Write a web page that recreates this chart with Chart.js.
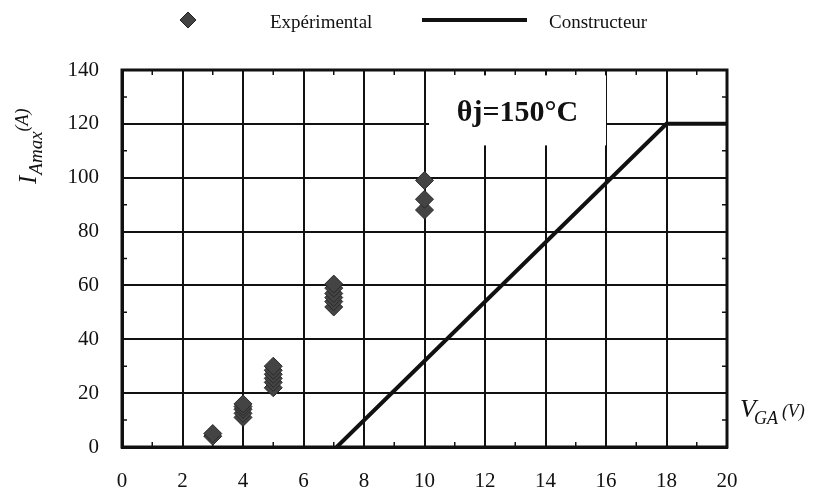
<!DOCTYPE html>
<html>
<head>
<meta charset="utf-8">
<script src="https://cdn.jsdelivr.net/npm/chart.js@4/dist/chart.umd.min.js"></script>
<style>
  html, body { margin: 0; padding: 0; background: #ffffff; }
  #wrap { width: 825px; height: 493px; position: relative; }
</style>
</head>
<body>
<div id="wrap"><canvas id="c" width="825" height="493"></canvas></div>
<script>
// ---- data ----
const expVoltage = [3, 3, 4, 4, 4, 4, 4, 5, 5, 5, 5, 5, 5, 7, 7, 7, 7, 7, 7, 10, 10, 10];
const expCurrent = [4, 5, 11, 12.5, 14, 15, 16, 22, 24, 25.5, 27, 28.5, 30, 52, 54, 55.5, 57, 59, 60.5, 88, 92, 99];
const conVoltage = [7.1, 18, 20];
const conCurrent = [0, 120, 120];
const xTickValues = [0, 2, 4, 6, 8, 10, 12, 14, 16, 18, 20];
const yTickValues = [0, 20, 40, 60, 80, 100, 120, 140];
const legendLabels = ['Expérimental', 'Constructeur'];
const annotationText = 'θj=150°C';
const annotationBox = { x0: 10.15, x1: 16.0, y0: 112, y1: 138 };

const SERIF = '"Liberation Serif", "Times New Roman", serif';
const INK = '#111111';
const DIAMOND = '#444444';

const expPoints = expVoltage.map((v, i) => ({ x: v, y: expCurrent[i] }));
const conPoints = conVoltage.map((v, i) => ({ x: v, y: conCurrent[i] }));

const decorPlugin = {
  id: 'decor',
  beforeDatasetsDraw(chart) {
    const { ctx, scales: { x, y }, chartArea: ca } = chart;
    ctx.save();
    // white annotation box covering the grid
    const bx0 = x.getPixelForValue(annotationBox.x0);
    const bx1 = x.getPixelForValue(annotationBox.x1);
    const by0 = y.getPixelForValue(annotationBox.y1);
    const by1 = y.getPixelForValue(annotationBox.y0);
    ctx.fillStyle = '#ffffff';
    ctx.fillRect(bx0, by0, bx1 - bx0, by1 - by0);
    ctx.fillStyle = INK;
    ctx.font = 'bold 30px ' + SERIF;
    ctx.textAlign = 'center';
    ctx.textBaseline = 'middle';
    ctx.fillText(annotationText, (bx0 + bx1) / 2, (by0 + by1) / 2 + 3);

    // frame
    ctx.strokeStyle = INK;
    ctx.lineWidth = 3;
    ctx.strokeRect(ca.left, ca.top, ca.right - ca.left, ca.bottom - ca.top);

    // minor inward ticks at odd values
    ctx.lineWidth = 1.5;
    const L = 5;
    for (let v = 1; v < 20; v += 2) {
      const px = x.getPixelForValue(v);
      ctx.beginPath();
      ctx.moveTo(px, ca.top); ctx.lineTo(px, ca.top + L);
      ctx.moveTo(px, ca.bottom); ctx.lineTo(px, ca.bottom - L);
      ctx.stroke();
    }
    for (let v = 10; v < 140; v += 20) {
      const py = y.getPixelForValue(v);
      ctx.beginPath();
      ctx.moveTo(ca.left, py); ctx.lineTo(ca.left + L, py);
      ctx.moveTo(ca.right, py); ctx.lineTo(ca.right - L, py);
      ctx.stroke();
    }
    ctx.restore();
  },
  afterDraw(chart) {
    const { ctx, chartArea: ca } = chart;
    ctx.save();
    ctx.fillStyle = INK;
    ctx.textBaseline = 'alphabetic';
    ctx.textAlign = 'left';

    // legend
    ctx.beginPath();
    ctx.moveTo(188, 12); ctx.lineTo(196, 20); ctx.lineTo(188, 28); ctx.lineTo(180, 20); ctx.closePath();
    ctx.fillStyle = DIAMOND; ctx.fill();
    ctx.strokeStyle = '#222'; ctx.lineWidth = 1; ctx.stroke();
    ctx.fillStyle = INK;
    ctx.font = '19px ' + SERIF;
    ctx.fillText(legendLabels[0], 270, 28);
    ctx.strokeStyle = INK; ctx.lineWidth = 4;
    ctx.beginPath(); ctx.moveTo(422, 20); ctx.lineTo(527, 20); ctx.stroke();
    ctx.fillText(legendLabels[1], 549, 28);

    // x axis title: V_GA (V)
    let xx = ca.right + 13;
    const bl = 417;
    ctx.font = 'italic 26px ' + SERIF;
    ctx.fillText('V', xx, bl);
    xx += ctx.measureText('V').width - 2;
    ctx.font = 'italic 18px ' + SERIF;
    ctx.fillText('GA', xx, bl + 7);
    xx += ctx.measureText('GA').width + 4;
    ctx.font = 'italic 18px ' + SERIF;
    ctx.fillText('(V)', xx, bl);

    // y axis title: I_Amax(A), rotated
    ctx.translate(36, 184);
    ctx.rotate(-Math.PI / 2);
    let tx = 0;
    ctx.font = 'italic 25px ' + SERIF;
    ctx.fillText('I', tx, 0);
    tx += ctx.measureText('I').width + 1;
    ctx.font = 'italic 19px ' + SERIF;
    ctx.fillText('Amax', tx, 6);
    tx += ctx.measureText('Amax').width;
    ctx.font = 'italic 18px ' + SERIF;
    ctx.fillText('(A)', tx, -8);
    ctx.restore();
  }
};

new Chart(document.getElementById('c'), {
  type: 'scatter',
  data: {
    datasets: [
      {
        label: legendLabels[0],
        data: expPoints,
        showLine: false,
        pointStyle: 'rectRot',
        pointRadius: 9,
        pointHoverRadius: 9,
        backgroundColor: DIAMOND,
        borderColor: '#2a2a2a',
        borderWidth: 1
      },
      {
        label: legendLabels[1],
        data: conPoints,
        showLine: true,
        borderColor: INK,
        borderWidth: 4,
        pointRadius: 0,
        pointHoverRadius: 0,
        fill: false,
        tension: 0
      }
    ]
  },
  options: {
    responsive: false,
    animation: false,
    devicePixelRatio: 1,
    layout: { padding: { left: 0, top: 70, right: 98, bottom: 0 } },
    plugins: {
      legend: { display: false },
      tooltip: { enabled: false },
      title: { display: false }
    },
    scales: {
      x: {
        type: 'linear',
        min: 0, max: 20,
        afterFit(s) { s.height = 46; },
        afterBuildTicks(s) { s.ticks = xTickValues.map(v => ({ value: v })); },
        ticks: { color: INK, font: { family: SERIF, size: 21 }, padding: 22 },
        grid: { color: INK, lineWidth: 2, drawTicks: false, tickLength: 0 },
        border: { display: true, color: INK, width: 3 }
      },
      y: {
        type: 'linear',
        min: 0, max: 140,
        afterFit(s) { s.width = 122; },
        afterBuildTicks(s) { s.ticks = yTickValues.map(v => ({ value: v })); },
        ticks: { color: INK, font: { family: SERIF, size: 21 }, padding: 23 },
        grid: { color: INK, lineWidth: 2, drawTicks: false, tickLength: 0 },
        border: { display: true, color: INK, width: 3 }
      }
    }
  },
  plugins: [decorPlugin]
});
</script>
</body>
</html>
